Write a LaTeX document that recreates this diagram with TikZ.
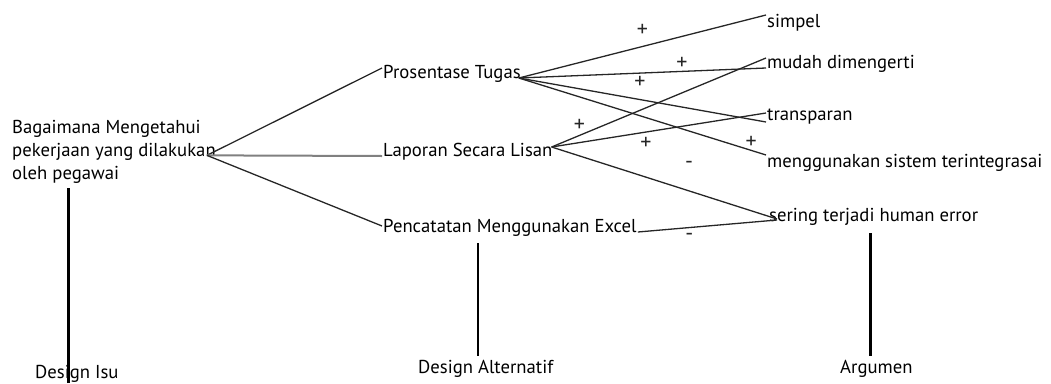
\documentclass[tikz,border=0pt]{standalone}
\usepackage{fontspec}
\setmainfont{PT Sans}

\tikzset{
	txt/.style={font=\fontsize{18.7}{23}\selectfont, inner sep=1pt, anchor=base west, align=left},
	sign/.style={font=\fontsize{22}{24}\selectfont, inner sep=1pt},
	link/.style={line width=1.3pt, black!85},
	stem/.style={line width=2.4pt}
}

\begin{document}
\begin{tikzpicture}[x=1pt, y=-1pt]
		\useasboundingbox (0,0) rectangle (1051,383);
		% issue
		\node[txt] (issue) at (11,179) {Bagaimana Mengetahui\\pekerjaan yang dilakukan\\oleh pegawai};
		% alternatives
		\node[txt] (pt) at (382,78) {Prosentase Tugas};
		\node[txt] (lsl) at (382,156) {Laporan Secara Lisan};
		\node[txt] (pce) at (382,232) {Pencatatan Menggunakan Excel};
		% arguments
		\node[txt] (simpel) at (766,27) {simpel};
		\node[txt] (mudah) at (766,68) {mudah dimengerti};
		\node[txt] (transparan) at (766,120) {transparan};
		\node[txt] (sistem) at (766,167) {menggunakan sistem terintegrasai};
		\node[txt] (sering) at (768,221) {sering terjadi human error};
		% axis labels
		\node[txt] (isu) at (34,378) {Design Isu};
		\node[txt] (alt) at (417,373) {Design Alternatif};
		\node[txt] (arg) at (839,373) {Argumen};

		\draw [link] ([xshift=-10pt, yshift=-4pt]issue.east) -- ([yshift=10pt]pt.base west);
		\draw [link, black!50, line width=2pt] ([xshift=-10pt, yshift=-4pt]issue.east) -- (lsl.base west);
		\draw [link] ([xshift=-10pt, yshift=-4pt]issue.east) -- ([yshift=6pt]pce.base west);

		\draw [link] ([xshift=-3pt]pt.base east) -- ([yshift=12pt]simpel.base west) node[sign, pos=0.5, above=8.5pt] {+};
		\draw [link] ([xshift=-3pt]pt.base east) -- (mudah.base west) node[sign, pos=0.66, above=0.5pt] {+};
		\draw [link] ([xshift=-3pt]pt.base east) -- ([yshift=-2pt]transparan.base west) node[sign, pos=0.49, above=9.5pt] {+};
		\draw [link] ([xshift=-3pt]pt.base east) -- ([yshift=12pt]sistem.base west) node[sign, pos=0.94, above=0pt] {+};

		\draw [link] ([xshift=-2pt, yshift=9pt]lsl.base east) -- ([yshift=10pt]mudah.base west) node[sign, pos=0.13, above=2pt] {+};
		\draw [link] ([xshift=-2pt, yshift=9pt]lsl.base east) -- ([yshift=7pt]transparan.base west) node[sign, pos=0.44, below=3.5pt] {+};
		\draw [link] ([xshift=-2pt, yshift=9pt]lsl.base east) -- ([xshift=9pt, yshift=2pt]sering.base west) node[sign, pos=0.61, above=21pt] {-};

		\draw [link] (pce.base east) -- ([xshift=9pt, yshift=1pt]sering.base west) node[sign, pos=0.37, below=4.5pt] {-};

		\draw [stem] ([xshift=-8.5pt]isu.south) -- ++(0,-195);
		\draw [stem] ([xshift=-8pt, yshift=3pt]alt.north) -- ++(0,-113);
		\draw [stem] ([xshift=-6pt, yshift=3pt]arg.north) -- ++(0,-123);
\end{tikzpicture}
\end{document}
